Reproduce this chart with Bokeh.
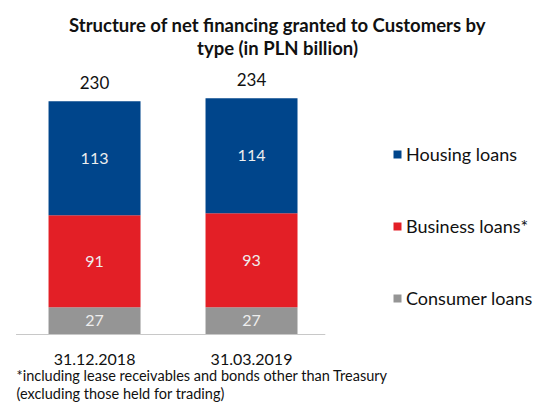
from bokeh.plotting import figure
from bokeh.models import ColumnDataSource, Range1d, Label, Legend, LegendItem
from bokeh.embed import file_html
from bokeh.resources import INLINE
from bokeh.core.properties import value

# Net financing to customers by type, PLN billion
periods = ["31.12.2018", "31.03.2019"]
consumer = [27, 27]
business = [91, 93]
housing = [113, 114]
totals = [230, 234]

series_names = ["Consumer loans", "Business loans*", "Housing loans"]
series_colors = ["#959595", "#e31f26", "#00458b"]

FONT = "Lato"

x = list(range(len(periods)))
src = ColumnDataSource(dict(x=x, consumer=consumer, business=business, housing=housing))

p = figure(width=535, height=403, output_backend="svg", toolbar_location=None,
           min_border=0, min_border_left=0, min_border_right=0,
           min_border_top=0, min_border_bottom=0)
p.x_range = Range1d(-0.599, 2.809)
p.y_range = Range1d(-68.3, 330.7)
p.axis.visible = False
p.grid.visible = False
p.outline_line_color = None
p.background_fill_color = "white"
p.border_fill_color = "white"

renderers = p.vbar_stack(["consumer", "business", "housing"], x="x", width=0.586,
                         color=series_colors, line_color=None, source=src)

# baseline
p.segment(x0=[-0.5], y0=[0], x1=[1.47], y1=[0], line_color="#c8c8c8", line_width=1.2)

# segment value labels
lx, ly, lt = [], [], []
for i in x:
    base = 0
    for vals in (consumer, business, housing):
        v = vals[i]
        lx.append(i)
        ly.append(base + v / 2)
        lt.append(str(v))
        base += v
p.text(x=lx, y=ly, text=lt, text_align="center", text_baseline="middle",
       text_color="#eeeeee", text_font=value(FONT), text_font_size="16px")

# totals above bars
p.text(x=x, y=[sum(v) for v in zip(consumer, business, housing)], text=[str(t) for t in totals],
       text_align="center", text_baseline="bottom", y_offset=-12,
       text_color="#111111", text_font=value(FONT), text_font_size="17px")

# category labels
for i, name in enumerate(periods):
    p.add_layout(Label(x=i, y=44, x_units="data", y_units="screen", text=name,
                       text_align="center", text_baseline="middle",
                       text_font=FONT, text_font_size="16px", text_color="#111111"))

# title
for yy, line in [(379, "Structure of net financing granted to Customers by"),
                 (356, "type (in PLN billion)")]:
    p.add_layout(Label(x=277, y=yy, x_units="screen", y_units="screen", text=line,
                       text_align="center", text_baseline="middle",
                       text_font=FONT, text_font_size="18.5px", text_font_style="bold",
                       text_color="#111111"))

# footnote
for yy, line in [(28, "*including lease receivables and bonds other than Treasury"),
                 (10, "(excluding those held for trading)")]:
    p.add_layout(Label(x=16, y=yy, x_units="screen", y_units="screen", text=line,
                       text_align="left", text_baseline="middle",
                       text_font=FONT, text_font_size="14.5px", text_color="#111111"))

items = [LegendItem(label=series_names[k], renderers=[renderers[k]]) for k in (2, 1, 0)]
legend = Legend(items=items, location=(392, 94), orientation="vertical",
                glyph_width=10, glyph_height=10, label_standoff=4, spacing=50,
                padding=0, margin=0, label_height=20,
                label_text_font=FONT, label_text_font_size="18px", label_text_color="#111111",
                border_line_color=None, background_fill_alpha=0)
p.add_layout(legend)

open("out.html", "w").write(file_html(p, INLINE))
